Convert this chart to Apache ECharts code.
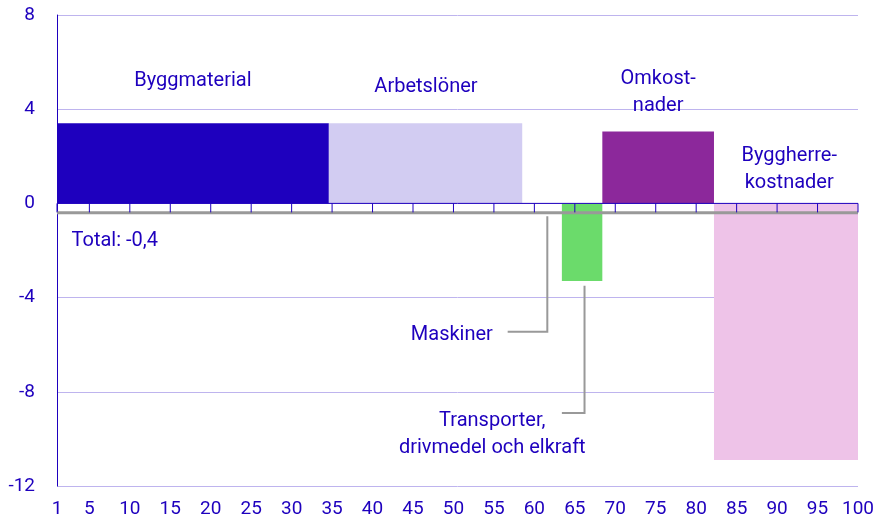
<!DOCTYPE html>
<html><head><meta charset="utf-8">
<script src="https://cdn.jsdelivr.net/npm/echarts@6/dist/echarts.min.js"></script>
<style>html,body{margin:0;padding:0;background:#fff}#c{width:886px;height:532px}</style>
</head><body><div id="c"></div>
<script>
const categories = ['Byggmaterial','Arbetslöner','Maskiner','Transporter, drivmedel och elkraft','Omkostnader','Byggherrekostnader'];
const starts = [1, 34.6, 58.5, 63.4, 68.4, 82.2];
const ends = [34.6, 58.5, 63.4, 68.4, 82.2, 100];
const values = [3.4, 3.4, 0, -3.3, 3.05, -10.9];
const colors = ['#1E00BE','#D2CCF2','#AAAAAA','#6BDB6B','#8C289B','#EEC3E8'];
const total = -0.4;
const xTicks = [1,5,10,15,20,25,30,35,40,45,50,55,60,65,70,75,80,85,90,95,100];
const txt = '#1E00BE';
const F = 'Roboto, sans-serif';
const chart = echarts.init(document.getElementById('c'));
chart.setOption({
  animation:false,
  grid:{left:57,right:28,top:15,bottom:46},
  xAxis:{type:'value',min:1,max:100,axisLine:{show:false},axisTick:{show:false},splitLine:{show:false},
     axisLabel:{customValues:xTicks,color:txt,fontSize:19,fontFamily:F,margin:14}},
  yAxis:{type:'value',min:-12,max:8,interval:4,
    axisLine:{show:true,onZero:false,lineStyle:{color:'#1E00BE'}},axisTick:{show:false},
    axisLabel:{color:txt,fontSize:19,fontFamily:F,margin:22},
    splitLine:{lineStyle:{color:'#BEB4EE'}}},
  series:[
    {type:'custom',data:categories.map((c,i)=>[starts[i],ends[i],values[i],i]),
     renderItem:function(params,api){
       const a=api.coord([api.value(0),0]), b=api.coord([api.value(1),api.value(2)]);
       const i=api.value(3);
       return {type:'rect',shape:{x:Math.min(a[0],b[0]),y:Math.min(a[1],b[1]),width:Math.abs(b[0]-a[0]),height:Math.abs(b[1]-a[1])},style:{fill:colors[i]}};
     },z:2},
    {type:'line',data:[[1,total],[100,total]],symbol:'none',lineStyle:{color:'#999999',width:3},z:5}
  ]
});
function P(x,y){return chart.convertToPixel({xAxisIndex:0,yAxisIndex:0},[x,y]);}
const style=(s,a)=>({text:s,fill:txt,font:'20px '+F,align:a||'center',verticalAlign:'middle',lineHeight:27});
const els=[];
// zero axis line and ticks
const z0=P(1,0), z1=P(100,0);
els.push({type:'line',shape:{x1:z0[0],y1:z0[1],x2:z1[0],y2:z1[1]},style:{stroke:'#1E00BE',lineWidth:1},z:10});
xTicks.forEach(t=>{const p=P(t,0);els.push({type:'line',shape:{x1:p[0],y1:p[1],x2:p[0],y2:p[1]+9},style:{stroke:'#1E00BE',lineWidth:1},z:10});});
function label(s,x,y,a){const p=P(x,y);els.push({type:'text',x:p[0],y:p[1],style:style(s,a),z:10});}
label('Byggmaterial',17.8,5.2);
label('Arbetslöner',46.6,4.95);
label('Omkost-\nnader',75.3,4.7);
label('Byggherre-\nkostnader',91.5,1.45);
label('Total: -0,4',2.8,-1.6,'left');
label('Maskiner',49.8,-5.6);
label('Transporter,\ndrivmedel och elkraft',54.8,-9.8);
const m1=P(56.7,-5.45), m2=P(61.6,-5.45), m3=P(61.6,-0.55);
els.push({type:'polyline',shape:{points:[m1,m2,m3]},style:{stroke:'#999',lineWidth:2,fill:null}});
const t1=P(63.4,-8.9), t2=P(66.2,-8.9), t3=P(66.2,-3.5);
els.push({type:'polyline',shape:{points:[t1,t2,t3]},style:{stroke:'#999',lineWidth:2,fill:null}});
chart.setOption({graphic:{elements:els}});
</script></body></html>
